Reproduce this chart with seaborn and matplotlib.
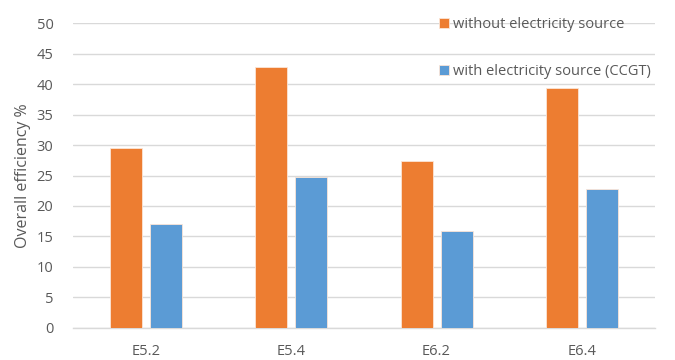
import matplotlib
matplotlib.use("Agg")
import matplotlib.pyplot as plt
import seaborn as sns
import pandas as pd

categories = ["E5.2", "E5.4", "E6.2", "E6.4"]
series_names = ["without electricity source", "with electricity source (CCGT)"]
without_source = [29.6, 42.8, 27.4, 39.3]
with_ccgt = [17.1, 24.8, 15.9, 22.7]
y_ticks = [0, 5, 10, 15, 20, 25, 30, 35, 40, 45, 50]

df = pd.DataFrame({
    "case": categories * 2,
    "series": [series_names[0]] * len(categories) + [series_names[1]] * len(categories),
    "value": without_source + with_ccgt,
})

sns.set_theme(style="white")
plt.rcParams["font.family"] = ["Open Sans", "DejaVu Sans"]
text_color = "#595959"

fig, ax = plt.subplots(figsize=(6.75, 3.6), dpi=100)
fig.subplots_adjust(left=0.108, right=0.97, top=0.935, bottom=0.09)

sns.barplot(data=df, x="case", y="value", hue="series",
            palette=["#ED7D31", "#5B9BD5"], width=0.55, gap=0.2,
            saturation=1, ax=ax, zorder=3, linewidth=0.6, edgecolor="#fbe5d6")

ax.set_ylim(0, 50)
ax.set_yticks(y_ticks)
ax.set_xlim(-0.5, 3.5)
ax.grid(axis="y", color="#d9d9d9", linewidth=1, zorder=0)
ax.set_axisbelow(True)
for s in ["top", "right", "left"]:
    ax.spines[s].set_visible(False)
ax.spines["bottom"].set_color("#d9d9d9")
ax.spines["bottom"].set_linewidth(1)
ax.tick_params(axis="x", length=0, labelsize=10.5, colors=text_color, pad=12)
ax.tick_params(axis="y", length=0, labelsize=10.5, colors=text_color, pad=14)
ax.set_xlabel("")
ax.set_ylabel("Overall efficiency %", fontsize=11.5, color=text_color, labelpad=4)

handles, labels = ax.get_legend_handles_labels()
leg = ax.legend(handles, labels, loc="upper left", bbox_to_anchor=(0.62, 1.04),
                frameon=False, fontsize=10.5, handlelength=0.65, handleheight=0.7,
                handletextpad=0.3, labelspacing=2.2, borderaxespad=0)
for t in leg.get_texts():
    t.set_color(text_color)

fig.savefig("out.png", dpi=100)
